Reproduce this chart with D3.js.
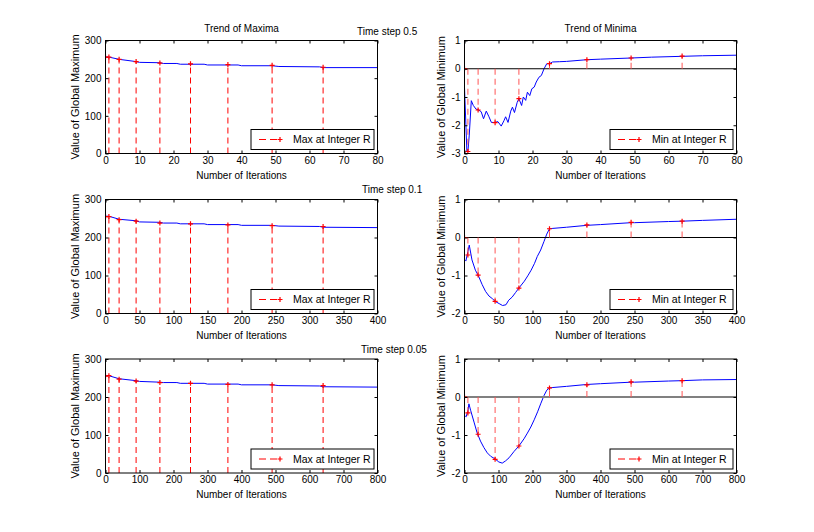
<!DOCTYPE html>
<html><head><meta charset="utf-8">
<script src="https://cdn.jsdelivr.net/npm/d3@7"></script>
<style>
body{margin:0;background:#fff}
svg text{font-family:"Liberation Sans",Arial,Helvetica,sans-serif;font-size:10px;fill:#000}
</style>
</head><body>
<svg id="c" width="814" height="532"></svg>
<script>
// ---------- DATA ----------
const rLabels = ["Time step 0.5", "Time step 0.1", "Time step 0.05"];
const titleMax = "Trend of Maxima";
const titleMin = "Trend of Minima";
const xLabel = "Number of Iterations";
const yLabelMax = "Value of Global Maximum";
const yLabelMin = "Value of Global Minimum";
const legendMax = "Max at Integer R";
const legendMin = "Min at Integer R";

const xTicks1 = [0,10,20,30,40,50,60,70,80];
const xTicks2 = [0,50,100,150,200,250,300,350,400];
const xTicks3 = [0,100,200,300,400,500,600,700,800];
const yTicksMax = [0,100,200,300];
const yTicksMin1 = [-3,-2,-1,0,1];
const yTicksMin23 = [-2,-1,0,1];

// integer-R iteration positions
const markIter1 = [0,1,4,9,16,25,36,49,64];
const markIter2 = [0,5,20,45,80,125,180,245,320];
const markIter3 = [0,10,40,90,160,250,360,490,640];

// maxima markers
const maxMark1 = [256,256,250,244,240,238,236,234,229];
const maxMark2 = [255,255,247,243,238,236,233,231,229];
const maxMark3 = [255,256,247,242,238,236,233,232,230];

// maxima curves
const maxX1 = [0,1,4,9,10,16,17,21,22,29,30,39,40,49,51,63,64,80];
const maxY1 = [256,256,250,244,242,241,239,239,237,237,235,235,233,233,231,230,228,228];
const maxX2 = [0,5,20,45,50,80,85,105,110,145,150,195,200,245,255,315,320,400];
const maxY2 = [256,256,248,244,241,240,238,238,236,236,234,234,232,232,230,229,227,226];
const maxX3 = [0,10,40,90,100,160,170,210,220,290,300,390,400,490,510,630,640,800];
const maxY3 = [256,256,248,243,241,239,238,238,236,236,234,234,232,232,230,229,227,226];

// minima markers
const minMark1 = [0,-2.93,-1.46,-1.91,-1.06,0.18,0.32,0.38,0.45];
const minMark2 = [0,-0.46,-0.99,-1.68,-1.33,0.23,0.33,0.40,0.43];
const minMark3 = [0,-0.42,-0.98,-1.64,-1.29,0.24,0.32,0.40,0.43];

// minima curves
const minX1 = [0,0.7,1,1.4,2,2.6,3.4,4,4.9,5.6,6.4,7.2,7.9,9,9.8,10.8,11.6,12.1,12.8,13.6,14.1,14.7,15.5,16,16.8,17.3,18,18.5,19.2,19.8,20.5,21.1,21.9,22.6,23.4,24.2,25,25.9,28,30,36,40,49,55,64,70,80];
const minY1 = [-0.66,-2.94,-2.93,-2.35,-1.13,-1.3,-1.43,-1.45,-1.52,-1.77,-1.5,-1.7,-1.9,-1.9,-1.87,-2.03,-1.84,-1.7,-1.9,-1.5,-1.36,-1.55,-1.19,-1.06,-1.3,-1.0,-1.12,-0.83,-0.95,-0.71,-0.65,-0.47,-0.3,-0.24,0,0.18,0.18,0.24,0.25,0.26,0.32,0.34,0.38,0.41,0.44,0.46,0.48];
const minX2 = [1,2,4,7,11,16,20,26,31,36,41,45,51,56,61,65,70,75,80,88,93,98,103,107,112,117,121,125,130,150,180,200,245,250,300,320,350,400];
const minY2 = [-0.6,-0.62,-0.45,-0.2,-0.59,-0.86,-0.99,-1.24,-1.42,-1.54,-1.61,-1.68,-1.74,-1.79,-1.77,-1.65,-1.57,-1.45,-1.33,-1.15,-1.01,-0.86,-0.68,-0.5,-0.33,-0.1,0.09,0.23,0.24,0.27,0.32,0.34,0.39,0.39,0.42,0.43,0.45,0.48];
const minX3 = [2,5,8,10,13,18,28,37,47,57,67,77,90,101,111,121,131,146,160,175,185,195,205,215,224,234,242,250,260,300,360,400,490,500,600,640,700,800];
const minY3 = [-0.5,-0.52,-0.42,-0.38,-0.18,-0.35,-0.66,-0.94,-1.16,-1.33,-1.47,-1.56,-1.63,-1.71,-1.74,-1.68,-1.6,-1.43,-1.29,-1.10,-0.95,-0.79,-0.6,-0.39,-0.18,0.04,0.18,0.24,0.25,0.28,0.33,0.35,0.39,0.39,0.42,0.43,0.45,0.46];

// ---------- LAYOUT ----------
const cols = [[105.5,377.5],[464.5,736.5]];
const rows = [[40.5,153.5],[199.5,313.5],[359,473]];
const BLUE = "#0000ff", RED = "#ff0000";
const svg = d3.select("#c");
let clipId = 0;

function zipXY(xs, ys){ return xs.map((x,i)=>[x, ys[i]]); }

function panel(o){
  const [x0,x1] = cols[o.col], [y0,y1] = rows[o.row];
  const x = d3.scaleLinear().domain(o.xDomain).range([x0,x1]);
  const y = d3.scaleLinear().domain(o.yDomain).range([y1,y0]);
  const g = svg.append("g");
  g.append("rect").attr("x",x0).attr("y",y0).attr("width",x1-x0).attr("height",y1-y0).attr("fill","#fff");
  const cid = "clip"+(clipId++);
  g.append("clipPath").attr("id",cid).append("rect").attr("x",x0).attr("y",y0-1).attr("width",x1-x0+1).attr("height",y1-y0+2);
  const pg = g.append("g").attr("clip-path",`url(#${cid})`);

  // blue curve
  pg.append("path").datum(zipXY(o.lineX,o.lineY))
    .attr("d", d3.line().x(d=>x(d[0])).y(d=>y(d[1])))
    .attr("fill","none").attr("stroke",BLUE).attr("stroke-width",1);

  // zero line
  if (o.zero){
    pg.append("line").attr("x1",x0).attr("x2",x1).attr("y1",y(0)).attr("y2",y(0))
      .attr("stroke",o.zeroColor||"#000").attr("stroke-width",o.zeroWidth||1);
  }

  // stems
  const pts = zipXY(o.mkX,o.mkY);
  pg.selectAll("line.stem").data(pts).enter().append("line").attr("class","stem")
    .attr("x1",d=>x(d[0])).attr("x2",d=>x(d[0]))
    .attr("y1",y(o.base)).attr("y2",d=>y(d[1]))
    .attr("stroke",o.stemColor||RED).attr("stroke-width",1).attr("stroke-dasharray","6,4");
  // markers
  pg.selectAll("path.mk").data(pts).enter().append("path").attr("class","mk")
    .attr("transform",d=>`translate(${x(d[0])},${y(d[1])})`)
    .attr("d","M-2.5,0H2.5M0,-2.5V2.5").attr("stroke",RED).attr("stroke-width",1.2).attr("fill","none");

  // axes
  const fmt = d => String(d);
  const ab = g.append("g").attr("transform",`translate(0,${y1})`)
    .call(d3.axisBottom(x).tickValues(o.xTicks).tickFormat(fmt).tickSizeInner(-3).tickSizeOuter(0).tickPadding(3));
  const at = g.append("g").attr("transform",`translate(0,${y0})`)
    .call(d3.axisTop(x).tickValues(o.xTicks).tickFormat("").tickSizeInner(-3).tickSizeOuter(0));
  const al = g.append("g").attr("transform",`translate(${x0},0)`)
    .call(d3.axisLeft(y).tickValues(o.yTicks).tickFormat(fmt).tickSizeInner(-3).tickSizeOuter(0).tickPadding(4));
  const ar = g.append("g").attr("transform",`translate(${x1},0)`)
    .call(d3.axisRight(y).tickValues(o.yTicks).tickFormat("").tickSizeInner(-3).tickSizeOuter(0));
  [ab,at,al,ar].forEach(a=>{
    a.select(".domain").remove();
    a.attr("font-family",null).attr("font-size",null);
    a.selectAll("line").attr("stroke","#000");
    a.selectAll("text").attr("fill","#000");
  });
  g.append("rect").attr("x",x0).attr("y",y0).attr("width",x1-x0).attr("height",y1-y0)
    .attr("fill","none").attr("stroke","#000").attr("stroke-width",1);

  // labels
  g.append("text").attr("x",(x0+x1)/2).attr("y",y1+25).attr("text-anchor","middle").text(xLabel);
  g.append("text").attr("transform",`translate(${o.ylabX},${(y0+y1)/2}) rotate(-90)`)
    .attr("text-anchor","middle").style("font-size","11px").text(o.yLabel);

  // legend
  const lx = x1-126.5, ly = y1-24, lw = 123, lh = 20, my = ly+lh/2;
  g.append("rect").attr("x",lx).attr("y",ly).attr("width",lw).attr("height",lh)
    .attr("fill","#fff").attr("stroke","#000").attr("stroke-width",1);
  g.append("line").attr("x1",lx+8).attr("x2",lx+30).attr("y1",my).attr("y2",my)
    .attr("stroke",RED).attr("stroke-width",1).attr("stroke-dasharray","7,4");
  g.append("path").attr("transform",`translate(${lx+29},${my})`).attr("d","M-2.5,0H2.5M0,-2.5V2.5")
    .attr("stroke",RED).attr("stroke-width",1.2);
  g.append("text").attr("x",lx+42).attr("y",my+3.5).style("font-size","10.5px").text(o.legend);
}

const iters = [markIter1, markIter2, markIter3];
const xTicksAll = [xTicks1, xTicks2, xTicks3];
const maxXs = [maxX1,maxX2,maxX3], maxYs = [maxY1,maxY2,maxY3], maxMarks = [maxMark1,maxMark2,maxMark3];
const minXs = [minX1,minX2,minX3], minYs = [minY1,minY2,minY3], minMarks = [minMark1,minMark2,minMark3];

for (let r=0;r<3;r++){
  const xt = xTicksAll[r];
  const xd = [xt[0], xt[xt.length-1]];
  panel({col:0,row:r,xDomain:xd,yDomain:[0,300],xTicks:xt,yTicks:yTicksMax,
    lineX:maxXs[r],lineY:maxYs[r],mkX:iters[r],mkY:maxMarks[r],base:0,
    legend:legendMax,yLabel:yLabelMax,ylabX:78.5});
  const yt = r===0 ? yTicksMin1 : yTicksMin23;
  panel({col:1,row:r,xDomain:xd,yDomain:[yt[0],yt[yt.length-1]],xTicks:xt,yTicks:yt,
    lineX:minXs[r],lineY:minYs[r],mkX:iters[r],mkY:minMarks[r],base:0,zero:true,
    zeroColor: r===2 ? "#808080" : "#000", zeroWidth: r===2 ? 2 : 1, stemColor:"#ff5555",
    legend:legendMin,yLabel:yLabelMin,ylabX:445});
}

// titles
svg.append("text").attr("x",(cols[0][0]+cols[0][1])/2).attr("y",32).attr("text-anchor","middle").text(titleMax);
svg.append("text").attr("x",(cols[1][0]+cols[1][1])/2).attr("y",32).attr("text-anchor","middle").text(titleMin);
const tsX = [357,362,361], tsY = [34.5,192.5,353];
rLabels.forEach((t,i)=>svg.append("text").attr("x",tsX[i]).attr("y",tsY[i]).text(t));
</script>
</body></html>
